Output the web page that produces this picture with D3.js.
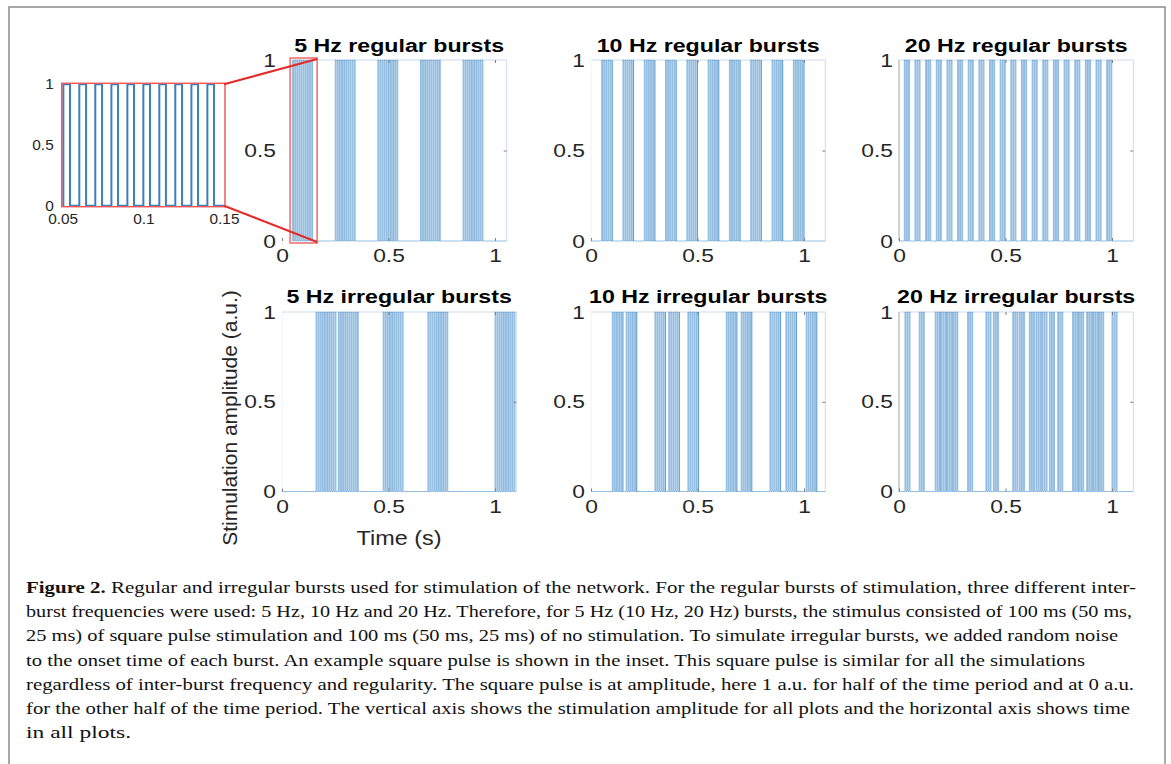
<!DOCTYPE html>
<html><head><meta charset="utf-8">
<script src="https://cdn.jsdelivr.net/npm/d3@7"></script>
<style>html,body{margin:0;padding:0;background:#fff;}svg{display:block;}</style>
</head><body>
<svg id="chart" width="1171" height="764"></svg>
<script>
// ---------------- data ----------------
const panelTitles = ["5 Hz regular bursts", "10 Hz regular bursts", "20 Hz regular bursts",
                     "5 Hz irregular bursts", "10 Hz irregular bursts", "20 Hz irregular bursts"];
const burstDurations = [0.1, 0.05, 0.025, 0.1, 0.05, 0.025];
const signalStart = [0.05, 0, 0, 0, 0, 0];
const signalEnd = [1.055, 1.1, 1.1, 1.1, 1.1, 1.1];
const onsets5Regular = [0.05, 0.25, 0.45, 0.65, 0.85];
const onsets10Regular = [0.05, 0.15, 0.25, 0.35, 0.45, 0.55, 0.65, 0.75, 0.85, 0.95];
const onsets20Regular = [0.025, 0.075, 0.125, 0.175, 0.225, 0.275, 0.325, 0.375, 0.425, 0.475,
                         0.525, 0.575, 0.625, 0.675, 0.725, 0.775, 0.825, 0.875, 0.925, 0.975];
const onsets5Irregular = [0.16, 0.265, 0.475, 0.685, 1.0];
const onsets10Irregular = [0.1, 0.165, 0.3, 0.365, 0.455, 0.635, 0.705, 0.84, 0.915, 1.01];
const onsets20Irregular = [0.028, 0.095, 0.17, 0.197, 0.224, 0.252, 0.322, 0.408, 0.443, 0.534,
                           0.565, 0.612, 0.643, 0.671, 0.706, 0.745, 0.815, 0.843, 0.881, 0.909, 0.937, 1.0];
// single square pulse train shown in the inset (rise / fall times, s)
const insetRise = [0.0504, 0.0603, 0.0702, 0.0802, 0.0901, 0.1000, 0.1099, 0.1198, 0.1298, 0.1397];
const insetFall = [0.0545, 0.0645, 0.0744, 0.0843, 0.0942, 0.1041, 0.1140, 0.1240, 0.1339, 0.1438];
const xTickValues = [0, 0.5, 1];
const yTickValues = [0, 0.5, 1];
const insetXTicks = [0.05, 0.1, 0.15];
const insetYTicks = [0, 0.5, 1];
const zoomRegion = [0.038, 0.165];
const xAxisLabel = "Time (s)";
const yAxisLabel = "Stimulation amplitude (a.u.)";
const captionLines = [
  ["Figure 2.", " Regular and irregular bursts used for stimulation of the network. For the regular bursts of stimulation, three different inter-"],
  ["", "burst frequencies were used: 5 Hz, 10 Hz and 20 Hz. Therefore, for 5 Hz (10 Hz, 20 Hz) bursts, the stimulus consisted of 100 ms (50 ms,"],
  ["", "25 ms) of square pulse stimulation and 100 ms (50 ms, 25 ms) of no stimulation. To simulate irregular bursts, we added random noise"],
  ["", "to the onset time of each burst. An example square pulse is shown in the inset. This square pulse is similar for all the simulations"],
  ["", "regardless of inter-burst frequency and regularity. The square pulse is at amplitude, here 1 a.u. for half of the time period and at 0 a.u."],
  ["", "for the other half of the time period. The vertical axis shows the stimulation amplitude for all plots and the horizontal axis shows time"],
  ["", "in all plots."]
];
const captionWidths = [1110, 1106, 1092, 1059, 1108, 1104, 105];

// ---------------- layout ----------------
const svg = d3.select("#chart");
const sans = "'Liberation Sans', Arial, Helvetica, sans-serif";
const serif = "'Liberation Serif', 'Times New Roman', serif";
const colX0 = [282, 591, 899], pxPerSec = 213;
const rowY1 = [60, 312], rowY0 = [241, 491.5];
const titleBaseline = [52, 303];
const hStretch = 1.2;
const sigColor = "#2a7cc2";

svg.append("rect").attr("x", 9).attr("y", 7).attr("width", 1156).attr("height", 800)
  .attr("fill", "none").attr("stroke", "#8c8c8c").attr("stroke-width", 1.5);

function pulseTrain(onsets, dur, start, end) {
  const pts = [[start, 0]];
  const r0 = insetRise[0];
  onsets.forEach(b => {
    insetRise.forEach((r, i) => {
      const ro = r - r0;
      if (ro >= dur || b + ro >= end) return;
      const fo = Math.min(insetFall[i] - r0, dur);
      pts.push([b + ro, 0], [b + ro, 1], [Math.min(b + fo, end), 1], [Math.min(b + fo, end), 0]);
    });
  });
  pts.push([end, 0]);
  return pts;
}

function stretchAxisText(g) {
  g.selectAll("text").each(function () {
    const t = d3.select(this);
    const xa = +t.attr("x") || 0;
    t.attr("transform", `translate(${xa},0) scale(${hStretch},1) translate(${-xa},0)`);
  });
}

const onsetsByPanel = [onsets5Regular, onsets10Regular, onsets20Regular, onsets5Irregular, onsets10Irregular, onsets20Irregular];
let panel0Scales = null;

panelTitles.forEach((title, i) => {
  const col = i % 3, row = Math.floor(i / 3);
  const x = d3.scaleLinear().domain([0, 1]).range([colX0[col], colX0[col] + pxPerSec]);
  const y = d3.scaleLinear().domain([0, 1]).range([rowY0[row], rowY1[row]]);
  if (i === 0) panel0Scales = { x, y };
  const xs = signalStart[i], xe = signalEnd[i];
  const g = svg.append("g");

  // faint axes box
  g.append("path").attr("d", `M${x(xs)},${y(1)}H${x(xe)}V${y(0)}`)
    .attr("fill", "none").attr("stroke", "#cadcee").attr("stroke-width", 1);
  g.append("line").attr("x1", x(xs)).attr("x2", x(xs)).attr("y1", y(1)).attr("y2", y(0))
    .attr("stroke", col === 2 ? "#a5a5a5" : "#eef2f6").attr("stroke-width", 1);

  // signal
  const pts = pulseTrain(onsetsByPanel[i], burstDurations[i], xs, xe);
  g.append("path").datum(pts)
    .attr("d", d3.line().x(d => x(d[0])).y(d => y(d[1])))
    .attr("fill", "none").attr("stroke", sigColor).attr("stroke-width", 0.5);

  // axes
  const xAx = g.append("g").attr("transform", `translate(0,${y(0)})`)
    .call(d3.axisBottom(x).tickValues(xTickValues).tickFormat(d3.format("")).tickSizeInner(-3).tickSizeOuter(0).tickPadding(8));
  const yAx = g.append("g").attr("transform", `translate(${x(0)},0)`)
    .call(d3.axisLeft(y).tickValues(yTickValues).tickFormat(d3.format("")).tickSizeInner(0).tickSizeOuter(0).tickPadding(6));
  g.append("g").attr("transform", `translate(0,${y(1)})`)
    .call(d3.axisTop(x).tickValues(xTickValues.slice(1)).tickFormat("").tickSizeInner(-3).tickSizeOuter(0));
  g.append("g").attr("transform", `translate(${x(xe)},0)`)
    .call(d3.axisRight(y).tickValues([0.5]).tickFormat("").tickSizeInner(-3).tickSizeOuter(0));
  g.selectAll(".domain").remove();
  g.selectAll(".tick line").attr("stroke", "#808080");
  [xAx, yAx].forEach(a => a.selectAll("text").attr("font-family", sans).attr("font-size", 19).attr("fill", "#262626"));
  stretchAxisText(xAx); stretchAxisText(yAx);

  // title
  const tx = colX0[col] + 0.55 * pxPerSec;
  g.append("text").text(title)
    .attr("x", tx).attr("y", titleBaseline[row])
    .attr("text-anchor", "middle").attr("font-family", sans).attr("font-weight", "bold")
    .attr("font-size", 19).attr("fill", "#000")
    .attr("transform", `translate(${tx},0) scale(${hStretch + 0.02},1) translate(${-tx},0)`);
});

// axis labels
svg.append("text").text(xAxisLabel)
  .attr("x", 399).attr("y", 545).attr("text-anchor", "middle")
  .attr("font-family", sans).attr("font-size", 20).attr("fill", "#262626")
  .attr("transform", `translate(399,0) scale(1.17,1) translate(-399,0)`);
svg.append("text").text(yAxisLabel)
  .attr("transform", "translate(237,418) rotate(-90)")
  .attr("text-anchor", "middle").attr("font-family", sans).attr("font-size", 21).attr("fill", "#262626");

// zoom indicator in 5 Hz regular panel
{
  const { x, y } = panel0Scales;
  svg.append("rect").attr("x", x(zoomRegion[0])).attr("y", y(1) - 2)
    .attr("width", x(zoomRegion[1]) - x(zoomRegion[0])).attr("height", y(0) - y(1) + 4)
    .attr("fill", "none").attr("stroke", "#f06a6a").attr("stroke-width", 1.5);
}

// inset
{
  const ix = d3.scaleLinear().domain([0.05, 0.15]).range([62.7, 224]);
  const iy = d3.scaleLinear().domain([0, 1]).range([205.7, 84.3]);
  const g = svg.append("g");
  const pts = [[0.05, 0]];
  insetRise.forEach((r, i) => pts.push([r, 0], [r, 1], [insetFall[i], 1], [insetFall[i], 0]));
  pts.push([0.15, 0]);
  g.append("path").datum(pts).attr("d", d3.line().x(d => ix(d[0])).y(d => iy(d[1])))
    .attr("fill", "none").attr("stroke", "#3a7fc1").attr("stroke-width", 2);
  g.append("rect").attr("x", ix(0.05) - 1).attr("y", iy(1) - 1)
    .attr("width", ix(0.15) - ix(0.05) + 2).attr("height", iy(0) - iy(1) + 2)
    .attr("fill", "none").attr("stroke", "#f05a5a").attr("stroke-width", 1.5);
  const xa = g.append("g").attr("transform", `translate(0,${iy(0)})`)
    .call(d3.axisBottom(ix).tickValues(insetXTicks).tickFormat(d3.format("")).tickSize(0).tickPadding(8));
  const ya = g.append("g").attr("transform", `translate(${ix(0.05)},0)`)
    .call(d3.axisLeft(iy).tickValues(insetYTicks).tickFormat(d3.format("")).tickSize(0).tickPadding(9));
  g.selectAll(".domain").remove();
  [xa, ya].forEach(a => a.selectAll("text").attr("font-family", sans).attr("font-size", 14).attr("fill", "#262626"));
  xa.selectAll("text").each(function () { d3.select(this).attr("transform", "scale(1.1,1)"); });
  ya.selectAll("text").each(function () { d3.select(this).attr("transform", "translate(-9,0) scale(1.1,1) translate(9,0)"); });

  // connector lines
  const { x, y } = panel0Scales;
  const zx = x(zoomRegion[1]);
  svg.append("line").attr("x1", ix(0.15)).attr("y1", iy(1)).attr("x2", zx).attr("y2", y(1) - 1)
    .attr("stroke", "#e52a2a").attr("stroke-width", 2);
  svg.append("line").attr("x1", ix(0.15)).attr("y1", iy(0)).attr("x2", zx).attr("y2", y(0) + 1)
    .attr("stroke", "#e52a2a").attr("stroke-width", 2);
}

// caption
captionLines.forEach((ln, i) => {
  const t = svg.append("text").attr("x", 26).attr("y", 593 + 24.2 * i)
    .attr("font-family", serif).attr("font-size", 17.5).attr("fill", "#111");
  if (ln[0]) t.append("tspan").attr("font-weight", "bold").text(ln[0]);
  t.append("tspan").text(ln[1]);
  if (captionWidths[i]) t.attr("textLength", captionWidths[i]).attr("lengthAdjust", "spacingAndGlyphs");
});
</script>
</body></html>
